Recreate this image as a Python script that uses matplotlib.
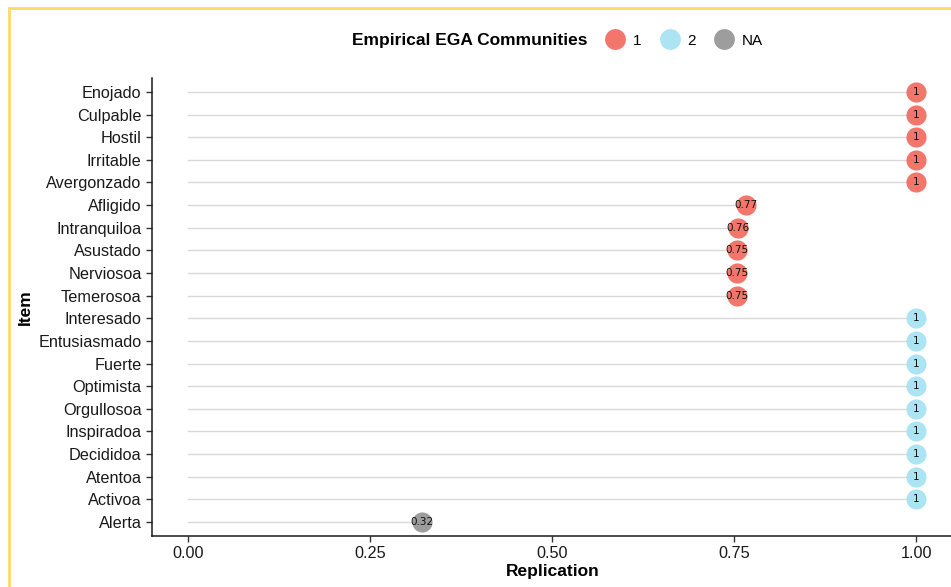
import numpy as np
import matplotlib.pyplot as plt
from matplotlib.lines import Line2D
from matplotlib.patches import Rectangle

plt.rcParams['font.family'] = ['Liberation Sans', 'DejaVu Sans']

# items from top to bottom
items = ['Enojado', 'Culpable', 'Hostil', 'Irritable', 'Avergonzado', 'Afligido',
         'Intranquiloa', 'Asustado', 'Nerviosoa', 'Temerosoa', 'Interesado',
         'Entusiasmado', 'Fuerte', 'Optimista', 'Orgullosoa', 'Inspiradoa',
         'Decididoa', 'Atentoa', 'Activoa', 'Alerta']
replication = [1, 1, 1, 1, 1, 0.766, 0.755, 0.754, 0.754, 0.754,
               1, 1, 1, 1, 1, 1, 1, 1, 1, 0.321]
community = ['1'] * 10 + ['2'] * 9 + ['NA']

colors = {'1': '#F26A60', '2': '#A6E2F2', 'NA': '#959595'}

fig = plt.figure(figsize=(9.51, 5.87), dpi=100)
ax = fig.add_axes([0.1598, 0.0876, 0.842, 0.7789])

n = len(items)
ypos = np.arange(n)[::-1]

for y, v, c in zip(ypos, replication, community):
    ax.plot([0, v], [y, y], color='#D9D9D9', lw=1, zorder=1)
    ax.plot(v, y, 'o', ms=14.5, color=colors[c], alpha=0.92, mec='none', zorder=2)
    ax.text(v, y, '%.2g' % v if v < 1 else '1', ha='center', va='center',
            fontsize=7.5, color='#111111', zorder=3, family='DejaVu Sans')

ax.set_yticks(ypos)
ax.set_yticklabels(items, fontsize=11.7, color='#1a1a1a')
ax.set_ylim(-0.6, n - 1 + 0.6)
ax.set_xlim(-0.05, 1.05)
ax.set_xticks([0, 0.25, 0.5, 0.75, 1.0])
ax.set_xticklabels(['0.00', '0.25', '0.50', '0.75', '1.00'], fontsize=11.7, color='#1a1a1a')
ax.tick_params(length=4, width=1, color='#333333')
for s in ['top', 'right']:
    ax.spines[s].set_visible(False)
for s in ['left', 'bottom']:
    ax.spines[s].set_color('#1a1a1a')
    ax.spines[s].set_linewidth(1.1)

ax.set_xlabel('Replication', fontsize=12.5, fontweight='bold', labelpad=2)
ax.set_ylabel('Item', fontsize=12.5, fontweight='bold', labelpad=4)

# legend across the top
fig.text(0.618, 0.931, 'Empirical EGA Communities', ha='right', va='center',
         fontsize=12.5, fontweight='bold')
handles = [Line2D([], [], marker='o', ls='none', ms=15, color=colors[k], alpha=0.92, mec='none')
           for k in ['1', '2', 'NA']]
fig.legend(handles, ['1', '2', 'NA'], loc='center left', bbox_to_anchor=(0.622, 0.931),
           ncol=3, frameon=False, fontsize=11, handletextpad=0.5, columnspacing=1.2,
           handlelength=1.3)

# yellow frame of the original image
fig.patches.append(Rectangle((0.0095, -0.1), 1.2, 1.087, transform=fig.transFigure,
                             fill=False, ec='#FFD966', lw=2, zorder=0))

fig.savefig('out.png', dpi=100)
